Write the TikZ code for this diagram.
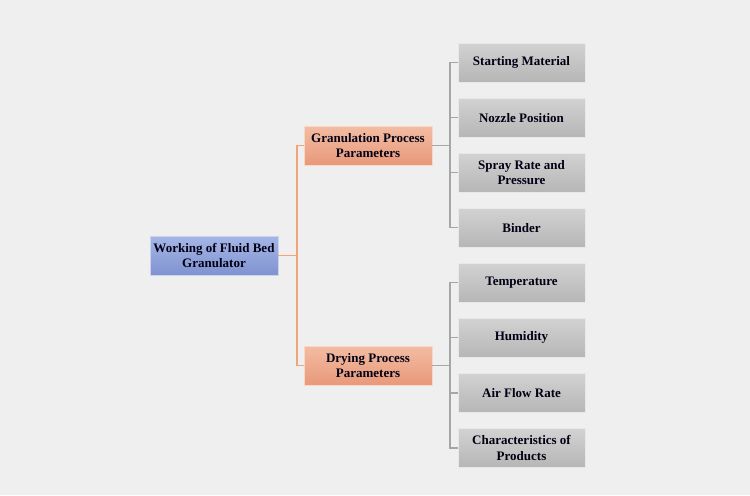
\documentclass[tikz,border=0pt]{standalone}
\usepackage{fontspec}
\setmainfont{Liberation Serif}
\usepackage{xcolor}
\usepackage{tikz}
\usetikzlibrary{positioning}
\definecolor{bgcol}{HTML}{EFEFEF}
\definecolor{rootTop}{HTML}{A5B6E6}
\definecolor{rootBot}{HTML}{8093D0}
\definecolor{midTop}{HTML}{F3BCA2}
\definecolor{midBot}{HTML}{E8997A}
\definecolor{leafTop}{HTML}{D2D2D2}
\definecolor{leafBot}{HTML}{B6B6B6}
\definecolor{orangeLine}{HTML}{F0A477}
\definecolor{grayLine}{HTML}{A6A6A6}

\begin{document}
\begin{tikzpicture}[
    x=0.02cm,y=-0.02cm,
    every node/.style={font=\fontsize{7.4}{9}\selectfont\bfseries,text=black!92!blue,align=center},
    rootbox/.style={top color=rootTop,bottom color=rootBot,draw=rootTop!60!white,line width=0.3pt,minimum width=2.56cm,minimum height=0.78cm,inner sep=1pt},
    midbox/.style={top color=midTop,bottom color=midBot,draw=midTop!60!white,line width=0.3pt,minimum width=2.56cm,minimum height=0.78cm,inner sep=1pt},
    leafbox/.style={top color=leafTop,bottom color=leafBot,draw=leafTop!50!white,line width=0.3pt,minimum width=2.54cm,minimum height=0.78cm,inner sep=1pt},
    oline/.style={draw=orangeLine,line width=0.8pt},
    gline/.style={draw=grayLine,line width=0.7pt}
  ]
    \useasboundingbox[fill=bgcol] (0,0) rectangle (750,495);
    % root and the two process groups
    \node[rootbox] (root) at (214,255.5) {Working of Fluid Bed\\Granulator};
    \node[midbox] (gran) at (368,145.5) {Granulation Process\\Parameters};
    \node[midbox] (dry) at (368,365.5) {Drying Process\\Parameters};
    % parameters
    \node[leafbox] (start) at (521.5,62.5) {Starting Material};
    \node[leafbox,below=0.311cm of start] (nozzle) {Nozzle Position};
    \node[leafbox,below=0.311cm of nozzle] (spray) {Spray Rate and\\Pressure};
    \node[leafbox,below=0.311cm of spray] (binder) {Binder};
    \node[leafbox,below=0.311cm of binder] (temp) {Temperature};
    \node[leafbox,below=0.311cm of temp] (humid) {Humidity};
    \node[leafbox,below=0.311cm of humid] (air) {Air Flow Rate};
    \node[leafbox,below=0.311cm of air] (prod) {Characteristics of\\Products};
    % connectors
    \coordinate (rj) at (297,255.5);
    \coordinate (gj) at (450,145.5);
    \coordinate (dj) at (450,365.5);
    \draw[oline] (root.east) -- (rj);
    \draw[oline] (rj) |- (gran.west);
    \draw[oline] (rj) |- (dry.west);
    \draw[gline] (gran.east) -- (gj);
    \draw[gline] (gj) |- (start.west);
    \draw[gline] (gj) |- (nozzle.west);
    \draw[gline] (gj) |- (spray.west);
    \draw[gline] (gj) |- (binder.west);
    \draw[gline] (dry.east) -- (dj);
    \draw[gline] (dj) |- (temp.west);
    \draw[gline] (dj) |- (humid.west);
    \draw[gline] (dj) |- (air.west);
    \draw[gline] (dj) |- (prod.west);
  \end{tikzpicture}
\end{document}
